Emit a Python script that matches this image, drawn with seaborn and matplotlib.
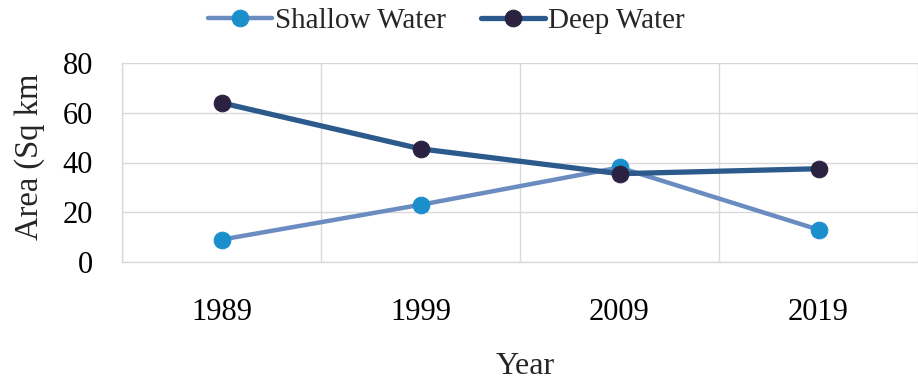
import pandas as pd
import seaborn as sns
import matplotlib.pyplot as plt

# --- dados ---
anos = ["1989", "1999", "2009", "2019"]
shallow = [9, 23, 38, 13]
deep = [64, 45.5, 35.5, 37.5]
series = ["Shallow Water", "Deep Water"]

df = pd.DataFrame({
    "pos": list(range(len(anos))) * 2,
    "area": shallow + deep,
    "serie": [series[0]] * len(anos) + [series[1]] * len(anos),
})

sns.set_theme(style="white")
plt.rcParams["font.family"] = ["Liberation Serif", "DejaVu Serif"]

cor_linha = {"Shallow Water": "#6b8cc0", "Deep Water": "#2c5a8c"}
cor_marca = {"Shallow Water": "#1a8fcc", "Deep Water": "#2a2240"}
larg = {"Shallow Water": 3.2, "Deep Water": 3.8}

fig = plt.figure(figsize=(9.18, 3.83), dpi=100)
ax = fig.add_axes([122 / 918, 1 - 262 / 383, 796 / 918, 199 / 383])

sns.lineplot(data=df, x="pos", y="area", hue="serie", palette=cor_linha,
             marker="o", markersize=12, legend=False, ax=ax)

for linha, s in zip(ax.get_lines(), series):
    linha.set_linewidth(larg[s])
    linha.set_markerfacecolor(cor_marca[s])
    linha.set_markeredgecolor(cor_marca[s])
    linha.set_label(s)

ax.set_xlim(-0.5, 3.46)
ax.set_ylim(0, 80)
ax.set_yticks([0, 20, 40, 60, 80])
ax.set_xticks(range(len(anos)))
ax.set_xticklabels(anos)
ax.set_xticks([-0.5, 0.5, 1.5, 2.5, 3.5], minor=True)
ax.grid(True, axis="y", color="#d9d9d9", linewidth=1)
ax.grid(True, axis="x", which="minor", color="#d9d9d9", linewidth=1)
ax.tick_params(axis="both", which="both", length=0, labelsize=22, colors="black")
ax.tick_params(axis="y", pad=21)
ax.tick_params(axis="x", pad=26)
for lado in ["top", "right"]:
    ax.spines[lado].set_visible(False)
for lado in ["left", "bottom"]:
    ax.spines[lado].set_color("#d9d9d9")
    ax.spines[lado].set_linewidth(1)

ax.set_xlabel("Year", fontsize=23)
ax.set_ylabel("Area (Sq km", fontsize=23.5)
ax.xaxis.set_label_coords(0.506, -0.45)
ax.yaxis.set_label_coords(-0.097, 0.528)

fig.legend(handles=ax.get_lines(), labels=series, loc="center",
           bbox_to_anchor=(446 / 918, 1 - 21 / 383), ncol=2, frameon=False,
           fontsize=21, handlelength=2.2, handletextpad=0.1, columnspacing=1.2)

fig.savefig("out.png", dpi=100)
